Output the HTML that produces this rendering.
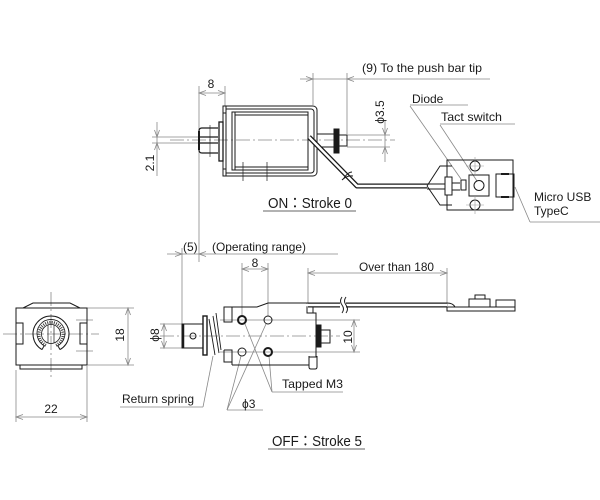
<!DOCTYPE html>
<html><head><meta charset="utf-8"><style>
html,body{margin:0;padding:0;background:#fff;}
svg{display:block;}
text{font-family:"Liberation Sans","Noto Sans CJK JP",sans-serif;fill:#1a1a1a;}
</style></head><body>
<svg width="600" height="500" viewBox="0 0 600 500" xmlns="http://www.w3.org/2000/svg">
<rect width="600" height="500" fill="#fff"/>

<!-- ================= TOP VIEW (ON) ================= -->
<g fill="none" stroke="#888" stroke-width="0.8">
  <line x1="170" y1="140" x2="395" y2="140" stroke-dasharray="14 3 2 3"/>
  <line x1="199" y1="86" x2="199" y2="262"/>
  <line x1="225" y1="86" x2="225" y2="106"/>
  <line x1="199" y1="93" x2="225" y2="93"/>
  <path d="M206,90.5 L199,93 L206,95.5 M218,90.5 L225,93 L218,95.5"/>
  <line x1="313" y1="73" x2="313" y2="105"/>
  <line x1="347" y1="73" x2="347" y2="134"/>
  <line x1="300" y1="79" x2="490" y2="79"/>
  <path d="M306,76.5 L313,79 L306,81.5 M354,76.5 L347,79 L354,81.5"/>
  <line x1="347" y1="135" x2="390" y2="135"/>
  <line x1="347" y1="147" x2="390" y2="147"/>
  <line x1="385" y1="120" x2="385" y2="162"/>
  <path d="M382.5,128 L385,135 L387.5,128 M382.5,154 L385,147 L387.5,154"/>
  <line x1="152" y1="137" x2="217" y2="137"/>
  <line x1="152" y1="143" x2="217" y2="143"/>
  <line x1="157" y1="122" x2="157" y2="176"/>
  <path d="M154.5,130 L157,137 L159.5,130 M154.5,150 L157,143 L159.5,150"/>
  <line x1="410" y1="105" x2="468" y2="105"/>
  <line x1="410" y1="106" x2="461" y2="179"/>
  <line x1="440" y1="124" x2="515" y2="124"/>
  <line x1="440" y1="125" x2="477" y2="181"/>
  <line x1="530" y1="222" x2="600" y2="222"/>
  <line x1="530" y1="222" x2="515" y2="187"/>
  <line x1="263" y1="211" x2="356" y2="211" stroke="#999" stroke-width="1.5"/>
</g>
<g fill="none" stroke="#1a1a1a" stroke-width="1">
  <path d="M226,106 L313,106 A4,4 0 0 1 317,110 L317,172 A4,4 0 0 1 313,176 L226,176"/>
  <path d="M226,109 L311,109 A3,3 0 0 1 314,112 L314,170 A3,3 0 0 1 311,173 L226,173"/>
  <path d="M223,106 L226,106 L226,176 L223,176 Z"/>
  <line x1="223" y1="113" x2="226" y2="113"/>
  <line x1="223" y1="169" x2="226" y2="169"/>
  <rect x="232" y="112" width="76" height="58"/>
  <line x1="235" y1="112" x2="235" y2="170"/>
  <line x1="235" y1="115" x2="308" y2="115"/>
  <line x1="235" y1="167" x2="308" y2="167"/>
  <line x1="243" y1="162" x2="243" y2="181" stroke-width="0.7"/>
  <line x1="267" y1="162" x2="267" y2="181" stroke-width="0.7"/>
  <rect x="219" y="122" width="4" height="39" stroke-width="1.3"/>
  <path d="M218,128 L202,128 Q199,128 199,131 L199,137 L218,137" stroke-width="1.2"/>
  <path d="M218,143 L199,143 L199,150 Q199,153 202,153 L218,153" stroke-width="1.2"/>
  <line x1="199" y1="131" x2="199" y2="150" stroke-width="2"/>
  <line x1="210" y1="125" x2="210" y2="157" stroke-width="0.6"/>
  <rect x="317" y="134" width="17" height="13"/>
  <rect x="334" y="129" width="5" height="24" fill="#1a1a1a"/>
  <rect x="339" y="135" width="8" height="11"/>
</g>
<g fill="none" stroke-linejoin="round">
  <path d="M309,137 L357,186 L427,186" stroke="#1a1a1a" stroke-width="5"/>
  <path d="M309,137 L357,186 L427,186" stroke="#fff" stroke-width="2.4"/>
  <path d="M427,186 L440,166 L452,166 M427,186 L440,205 L452,205" stroke="#1a1a1a" stroke-width="1"/>
  <path d="M427,184 L452,184 M427,189 L452,189" stroke="#1a1a1a" stroke-width="1"/>
  <path d="M344,178 Q348,172 352,172 M342,180 Q347,175 353,176" stroke="#1a1a1a" stroke-width="1"/>
</g>
<g fill="none" stroke="#1a1a1a" stroke-width="1">
  <rect x="447" y="160" width="66" height="50"/>
  <rect x="445" y="177" width="7" height="18" fill="#fff"/>
  <line x1="452" y1="183" x2="460" y2="183"/>
  <line x1="452" y1="190" x2="460" y2="190"/>
  <rect x="461" y="180" width="5" height="10"/>
  <rect x="469" y="175" width="20" height="21"/>
  <circle cx="479" cy="185.5" r="5"/>
  <circle cx="475" cy="166" r="5"/>
  <circle cx="475" cy="205" r="5"/>
  <rect x="496" y="174" width="18" height="23"/>
  <line x1="501" y1="174" x2="509" y2="174" stroke-width="2"/>
  <line x1="501" y1="197" x2="509" y2="197" stroke-width="2"/>
</g>
<g stroke="#999" stroke-width="0.6">
  <line x1="466" y1="166" x2="484" y2="166"/><line x1="475" y1="157" x2="475" y2="175"/>
  <line x1="466" y1="205" x2="484" y2="205"/><line x1="475" y1="196" x2="475" y2="214"/>
</g>

<text x="211" y="88" font-size="12" text-anchor="middle">8</text>
<text x="362" y="72" font-size="12" textLength="120" lengthAdjust="spacingAndGlyphs">(9) To the push bar tip</text>
<text transform="translate(380,112) rotate(-90)" font-size="12" text-anchor="middle" dominant-baseline="central">ϕ3.5</text>
<text transform="translate(150,163) rotate(-90)" font-size="12" text-anchor="middle" dominant-baseline="central">2.1</text>
<text x="412" y="103" font-size="12">Diode</text>
<text x="441" y="121" font-size="12" textLength="61" lengthAdjust="spacingAndGlyphs">Tact switch</text>
<text x="534" y="201" font-size="12">Micro USB</text>
<text x="534" y="215" font-size="12">TypeC</text>
<text x="268" y="208" font-size="15" textLength="84" lengthAdjust="spacingAndGlyphs">ON：Stroke 0</text>

<!-- ================= LEFT FRONT VIEW ================= -->
<g fill="none" stroke="#888" stroke-width="0.8">
  <line x1="3" y1="334" x2="99" y2="334" stroke-dasharray="14 3 2 3"/>
  <line x1="51" y1="292" x2="51" y2="380" stroke-dasharray="14 3 2 3"/>
  <line x1="76" y1="320" x2="93" y2="320"/>
  <line x1="76" y1="351" x2="93" y2="351"/>
  <line x1="87" y1="308" x2="134" y2="308"/>
  <line x1="87" y1="365" x2="134" y2="365"/>
  <line x1="128" y1="308" x2="128" y2="365"/>
  <path d="M125.5,315 L128,308 L130.5,315 M125.5,358 L128,365 L130.5,358"/>
  <line x1="16" y1="370" x2="16" y2="422"/>
  <line x1="87" y1="366" x2="87" y2="422"/>
  <line x1="16" y1="417" x2="87" y2="417"/>
  <path d="M23,414.5 L16,417 L23,419.5 M80,414.5 L87,417 L80,419.5"/>
</g>
<g fill="none" stroke="#1a1a1a" stroke-width="1">
  <rect x="16" y="308" width="71" height="57"/>
  <path d="M23,308 L33,303 L70,303 L80,308"/>
  <path d="M20,365 L20,369 L82,369 L82,365"/>
  <rect x="16" y="323" width="7" height="21"/>
  <rect x="80" y="323" width="7" height="21"/>
  <path d="M60,349.6 A18,18 0 1 0 42,349.6"/>
  <path d="M42,349.6 L44,346 M60,349.6 L58,346"/>
  <path d="M56,345.3 A12,12 0 1 0 46,345.3" stroke="#444" stroke-width="3" stroke-dasharray="1 1.2"/>
  <path d="M57,346.1 A14,14 0 1 0 45,346.1" stroke-width="0.8"/>
  <circle cx="51" cy="334" r="9.5" stroke-width="0.8"/>
  <line x1="48" y1="325" x2="48" y2="343" stroke-width="0.7"/>
  <line x1="54" y1="325" x2="54" y2="343" stroke-width="0.7"/>
</g>
<text x="51" y="413" font-size="12" text-anchor="middle">22</text>
<text transform="translate(120,335) rotate(-90)" font-size="12" text-anchor="middle" dominant-baseline="central">18</text>

<!-- ================= BOTTOM SIDE VIEW (OFF) ================= -->
<g fill="none" stroke="#888" stroke-width="0.8">
  <line x1="160" y1="336" x2="340" y2="336" stroke-dasharray="14 3 2 3"/>
  <line x1="182" y1="248" x2="182" y2="324"/>
  <line x1="167" y1="254" x2="338" y2="254"/>
  <path d="M175,251.5 L182,254 L175,256.5 M206,251.5 L199,254 L206,256.5"/>
  <line x1="242" y1="263" x2="242" y2="316"/>
  <line x1="268" y1="263" x2="268" y2="316"/>
  <line x1="242" y1="269" x2="268" y2="269"/>
  <path d="M249,266.5 L242,269 L249,271.5 M261,266.5 L268,269 L261,271.5"/>
  <line x1="308" y1="268" x2="308" y2="303"/>
  <line x1="447" y1="268" x2="447" y2="306"/>
  <line x1="308" y1="273" x2="447" y2="273"/>
  <path d="M315,270.5 L308,273 L315,275.5 M440,270.5 L447,273 L440,275.5"/>
  <line x1="220" y1="320" x2="360" y2="320"/>
  <line x1="220" y1="352" x2="360" y2="352"/>
  <line x1="354" y1="320" x2="354" y2="352"/>
  <path d="M351.5,327 L354,320 L356.5,327 M351.5,345 L354,352 L356.5,345"/>
  <line x1="160" y1="324" x2="182" y2="324"/>
  <line x1="160" y1="348" x2="182" y2="348"/>
  <line x1="164" y1="324" x2="164" y2="348"/>
  <path d="M161.5,331 L164,324 L166.5,331 M161.5,341 L164,348 L166.5,341"/>
  <line x1="120" y1="407" x2="203" y2="407"/>
  <line x1="203" y1="407" x2="213" y2="356"/>
  <line x1="272" y1="392" x2="343" y2="392"/>
  <line x1="272" y1="392" x2="245" y2="324"/>
  <line x1="272" y1="392" x2="269" y2="356"/>
  <line x1="227" y1="410" x2="263" y2="410"/>
  <line x1="227" y1="410" x2="241" y2="356"/>
  <line x1="227" y1="410" x2="266" y2="324"/>
  <line x1="268" y1="449" x2="365" y2="449" stroke="#999" stroke-width="1.5"/>
</g>
<g fill="none" stroke="#1a1a1a" stroke-width="1">
  <path d="M232,307 L257,307 L268,303 L307,303 L307,313 L316,313 L316,357 L309,357"/>
  <path d="M232,307 L224,307 L224,322 L232,322 L232,307"/>
  <path d="M224,350 L224,362 L232,362 L232,350 L224,350 M232,365 L309,365"/>
  <line x1="232" y1="362" x2="232" y2="365"/>
  <rect x="307" y="303" width="6" height="10"/>
  <path d="M309,356 L309,367 Q309,369 311,369 L315,369 Q317,369 317,367 L317,356"/>
  <circle cx="242" cy="320" r="4" stroke-width="2"/>
  <circle cx="268" cy="320" r="4"/>
  <circle cx="242" cy="352" r="4"/>
  <circle cx="268" cy="352" r="4" stroke-width="2"/>
  <rect x="316" y="325" width="5" height="22" fill="#1a1a1a"/>
  <rect x="321" y="330" width="9" height="13"/>
  <rect x="182" y="324" width="21" height="24"/>
  <line x1="183" y1="324" x2="183" y2="348" stroke-width="2.5"/>
  <circle cx="193" cy="336" r="3"/>
  <rect x="203" y="316" width="4" height="39" stroke-width="1.4"/>
  <path d="M209,319 L215,355 M213,316 L219,353 M216,313 L221,350" stroke-width="0.9"/>
</g>
<g fill="none">
  <path d="M308,305 L447,305" stroke="#1a1a1a" stroke-width="5"/>
  <path d="M306,305 L447,305" stroke="#fff" stroke-width="2.6"/>
  <rect x="340" y="297" width="6" height="16" fill="#fff" stroke="none"/>
  <path d="M342,297 Q339,301 342,305 Q345,309 342,313 M346,297 Q343,301 346,305 Q349,309 346,313" stroke="#1a1a1a" stroke-width="1"/>
  <path d="M447,307 L515,307 L515,311 L447,311 Z" stroke="#1a1a1a" stroke-width="1"/>
  <path d="M447,303 Q453,303 455,307" stroke="#1a1a1a" stroke-width="1"/>
  <rect x="469" y="299" width="21" height="8" stroke="#1a1a1a" stroke-width="1"/>
  <rect x="475" y="295" width="10" height="4" stroke="#1a1a1a" stroke-width="1"/>
  <rect x="496" y="300" width="19" height="7" stroke="#1a1a1a" stroke-width="1"/>
</g>

<text x="183" y="251" font-size="12">(5)</text>
<text x="212" y="251" font-size="12" textLength="94" lengthAdjust="spacingAndGlyphs">(Operating range)</text>
<text x="255" y="267" font-size="12" text-anchor="middle">8</text>
<text x="359" y="271" font-size="12" textLength="75" lengthAdjust="spacingAndGlyphs">Over than 180</text>
<text transform="translate(348,337) rotate(-90)" font-size="12" text-anchor="middle" dominant-baseline="central">10</text>
<text transform="translate(155,335) rotate(-90)" font-size="12" text-anchor="middle" dominant-baseline="central">ϕ8</text>
<text x="122" y="403" font-size="12" textLength="72" lengthAdjust="spacingAndGlyphs">Return spring</text>
<text x="282" y="388" font-size="12" textLength="61" lengthAdjust="spacingAndGlyphs">Tapped M3</text>
<text x="242" y="408" font-size="12">ϕ3</text>
<text x="272" y="446" font-size="15" textLength="90" lengthAdjust="spacingAndGlyphs">OFF：Stroke 5</text>
</svg>
</body></html>
